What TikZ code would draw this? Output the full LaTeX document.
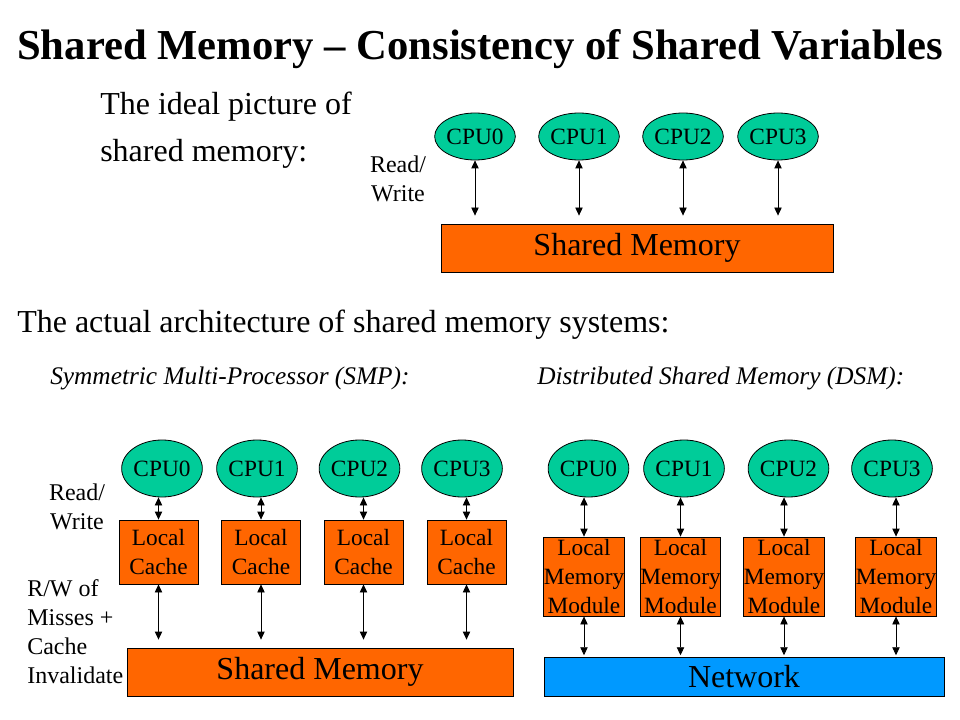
\documentclass[tikz,border=0pt]{standalone}
\usepackage{fontspec}
\setmainfont{Liberation Serif}
\usetikzlibrary{shapes.geometric,arrows.meta}
\definecolor{cpugreen}{HTML}{00CC99}
\definecolor{boxorange}{HTML}{FF6600}
\definecolor{netblue}{HTML}{0099FF}
\tikzset{
  cpu/.style={ellipse, draw=black, line width=0.6pt, fill=cpugreen, inner sep=0pt,
    minimum width={71*0.75pt}, font=\fontsize{17.5}{21}\selectfont},
  orbox/.style={rectangle, draw=black, line width=0.6pt, fill=boxorange, inner sep=0pt, align=center},
  smallfont/.style={font=\fontsize{17.5}{21.75}\selectfont},
  bigfont/.style={font=\fontsize{24}{28}\selectfont},
  rw/.style={line width=0.6pt, {Triangle[width=5.5pt,length=6pt]}-{Triangle[width=5.5pt,length=6pt]}},
  lbl/.style={inner sep=0pt, align=center, font=\fontsize{18}{21.75}\selectfont},
}
\begin{document}
\begin{tikzpicture}[x=0.75pt,y=-0.75pt]
\useasboundingbox (0,0) rectangle (960,720);
% title and texts
\node[anchor=base west, inner sep=0pt, font=\fontsize{32}{36}\selectfont\bfseries] (title) at (17,60) {Shared Memory -- Consistency of Shared Variables};
\node[anchor=base west, inner sep=0pt, font=\fontsize{24}{28}\selectfont] (ideal1) at (100,115) {The ideal picture of};
\node[anchor=base west, inner sep=0pt, font=\fontsize{24}{28}\selectfont] (ideal2) at (100,162) {shared memory:};
\node[anchor=base west, inner sep=0pt, font=\fontsize{24}{28}\selectfont] (actual) at (17,332) {The actual architecture of shared memory systems:};
\node[anchor=base west, inner sep=0pt, font=\fontsize{19}{22}\selectfont\itshape] (smp) at (50,384) {Symmetric Multi-Processor (SMP):};
\node[anchor=base west, inner sep=0pt, font=\fontsize{19}{22}\selectfont\itshape] (dsm) at (537,384) {Distributed Shared Memory (DSM):};

% ---------- ideal picture ----------
\node[orbox, bigfont, minimum width={392*0.75pt}, minimum height={48*0.75pt}] (smA) at (637,248) {Shared Memory};
\foreach \i/\x in {0/475,1/579,2/683,3/778}{
  \node[cpu, minimum height={47*0.75pt}] (a\i) at (\x,136.5) {CPU\i};
  \draw[rw, shorten >=6pt] (a\i.south) -- (a\i.south |- smA.north);
}
\node[lbl] (rwA) at (398,179) {Read/\\Write};

% ---------- SMP ----------
\node[orbox, bigfont, minimum width={386*0.75pt}, minimum height={48*0.75pt}] (smB) at (320,672) {Shared Memory};
\foreach \i/\x/\cx in {0/158.5/162,1/261/257,2/363.5/359.5,3/466.5/462}{
  \node[cpu, minimum height={57*0.75pt}] (b\i) at (\cx,468.5) {CPU\i};
  \node[orbox, smallfont, minimum width={79*0.75pt}, minimum height={64*0.75pt}] (lc\i) at (\x,552) {Local\\Cache};
  \draw[rw] (lc\i.north) -- (lc\i.north |- b\i.south);
  \draw[rw, shorten >=6pt] (lc\i.south) -- (lc\i.south |- smB.north);
}
\node[lbl] (rwB) at (77,506.5) {Read/\\Write};
\node[lbl, align=left, anchor=west] (miss) at (27,632) {R/W of\\Misses +\\Cache\\Invalidate};

% ---------- DSM ----------
\node[rectangle, draw=black, line width=0.6pt, fill=netblue, inner sep=0pt, bigfont,
  minimum width={400*0.75pt}, minimum height={39*0.75pt}] (net) at (744,676.5) {Network};
\foreach \i/\x/\cx in {0/584/588.5,1/680.5/684,2/784/788.5,3/896/892}{
  \node[cpu, minimum height={57*0.75pt}] (d\i) at (\cx,468.5) {CPU\i};
  \node[orbox, font=\fontsize{17.5}{21.4}\selectfont, minimum width={80*0.75pt}, minimum height={79*0.75pt}] (lm\i) at (\x,576.5) {Local\\Memory\\Module};
  \draw[rw] (lm\i.north) -- (lm\i.north |- d\i.south);
  \draw[rw, shorten >=1pt] (lm\i.south) -- (lm\i.south |- net.north);
}
\end{tikzpicture}
\end{document}
